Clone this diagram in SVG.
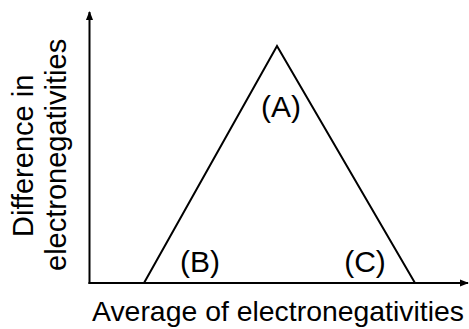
<svg xmlns="http://www.w3.org/2000/svg" width="469" height="329" viewBox="0 0 469 329">
<style>
text{font-family:"Liberation Sans",Arial,sans-serif;fill:#000}
.ax{font-size:29px}
.lb{font-size:30px;text-anchor:middle}
.line{stroke:#000;fill:none;stroke-width:2}
</style>
<defs>
<marker id="arr" viewBox="0 0 10 10" refX="9" refY="5" markerWidth="4.5" markerHeight="4.5" orient="auto" markerUnits="strokeWidth">
<path d="M0,1 L10,5 L0,9 Z" fill="#000"/>
</marker>
</defs>
<rect width="469" height="329" fill="#fff"/>
<g id="connectors">
<line class="line" x1="89.5" y1="284" x2="89.5" y2="12" marker-end="url(#arr)"/>
<line class="line" x1="88.5" y1="283" x2="468" y2="283" marker-end="url(#arr)"/>
<polyline class="line" stroke-width="1.8" points="144,283 277,46 415,283"/>
</g>
<g id="labelA"><text class="lb" x="281" y="117">(A)</text></g>
<g id="labelB"><text class="lb" x="200" y="272">(B)</text></g>
<g id="labelC"><text class="lb" x="365" y="272">(C)</text></g>
<g id="yaxis-label">
<text class="ax" transform="translate(33,237) rotate(-90)">Difference in</text>
<text class="ax" transform="translate(66,271) rotate(-90)">electronegativities</text>
</g>
<g id="xaxis-label"><text x="92" y="321" font-size="28" textLength="372" lengthAdjust="spacingAndGlyphs">Average of electronegativities</text></g>
</svg>
